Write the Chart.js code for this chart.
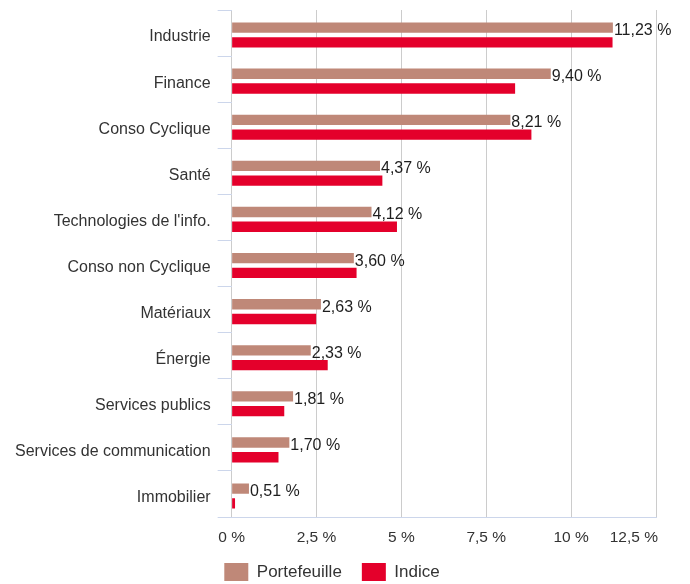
<!DOCTYPE html>
<html>
<head>
<meta charset="utf-8">
<script src="https://cdn.jsdelivr.net/npm/chart.js@4/dist/chart.umd.min.js"></script>
<style>
  html, body { margin: 0; padding: 0; background: #fff; }
  #wrap { width: 690px; height: 584px; }
</style>
</head>
<body>
<div id="wrap"><canvas id="c" width="690" height="584"></canvas></div>
<script>
const categories = ["Industrie", "Finance", "Conso Cyclique", "Santé", "Technologies de l'info.", "Conso non Cyclique", "Matériaux", "Énergie", "Services publics", "Services de communication", "Immobilier"];
const portefeuille = [11.23, 9.40, 8.21, 4.37, 4.12, 3.60, 2.63, 2.33, 1.81, 1.70, 0.51];
const indice = [11.22, 8.35, 8.83, 4.44, 4.87, 3.68, 2.49, 2.83, 1.55, 1.38, 0.10];
const xTicks = [0, 2.5, 5, 7.5, 10, 12.5];
const seriesNames = ["Portefeuille", "Indice"];

const FONT = "'Liberation Sans', Arial, Helvetica, sans-serif";
const BAR_SHIFT = 2;
const fmt = v => v.toLocaleString('fr-FR', {minimumFractionDigits: 0, maximumFractionDigits: 1}) + ' %';
const fmt2 = v => v.toFixed(2).replace('.', ',') + ' %';

const labelsPlugin = {
  id: 'customLabels',
  beforeDatasetsDraw(chart) {
    chart.ctx.save();
    chart.ctx.translate(0, BAR_SHIFT);
  },
  afterDatasetsDraw(chart) {
    const ctx = chart.ctx;
    ctx.restore();
    ctx.save();
    ctx.font = '16px ' + FONT;
    ctx.fillStyle = '#1e1e1e';
    ctx.textAlign = 'left';
    ctx.textBaseline = 'middle';
    const meta = chart.getDatasetMeta(0);
    meta.data.forEach((bar, i) => {
      ctx.fillText(fmt2(portefeuille[i]), bar.x + 1, bar.y + BAR_SHIFT + 3);
    });
    ctx.restore();
  },
  afterDraw(chart) {
    const ctx = chart.ctx;
    const sx = chart.scales.x;
    ctx.save();
    ctx.font = '15.5px ' + FONT;
    ctx.fillStyle = '#333';
    ctx.textBaseline = 'middle';
    const n = xTicks.length;
    xTicks.forEach((v, i) => {
      const px = sx.getPixelForValue(v);
      if (i === n - 1) {
        ctx.textAlign = 'right';
        ctx.fillText(fmt(v), px + 2, sx.top + 21);
      } else {
        ctx.textAlign = 'center';
        ctx.fillText(fmt(v), px, sx.top + 21);
      }
    });
    ctx.restore();
  }
};

new Chart(document.getElementById('c'), {
  type: 'bar',
  data: {
    labels: categories,
    datasets: [
      { label: seriesNames[0], data: portefeuille, backgroundColor: '#bf8878', borderWidth: 0,
        categoryPercentage: 0.64, barPercentage: 0.7 },
      { label: seriesNames[1], data: indice, backgroundColor: '#e4002b', borderWidth: 0,
        categoryPercentage: 0.64, barPercentage: 0.7 }
    ]
  },
  options: {
    indexAxis: 'y',
    responsive: false,
    animation: false,
    layout: { padding: { left: 8, right: 34, top: 10, bottom: -7 } },
    plugins: {
      tooltip: { enabled: false },
      legend: {
        position: 'bottom',
        labels: {
          font: { family: FONT, size: 17 },
          color: '#333',
          boxWidth: 24,
          boxHeight: 18,
          padding: 20
        }
      }
    },
    scales: {
      x: {
        min: 0,
        max: 12.5,
        afterBuildTicks(scale) { scale.ticks = xTicks.map(v => ({ value: v })); },
        afterFit(scale) { scale.height = 26; },
        ticks: { display: false },
        grid: { color: '#cccccc', drawTicks: false, lineWidth: 1 },
        border: { display: true, color: '#ccd6eb' }
      },
      y: {
        afterFit(scale) { scale.paddingTop = 0; scale.paddingBottom = 0; },
        ticks: { font: { family: FONT, size: 16 }, color: '#333', padding: 7, labelOffset: 4 },
        grid: { offset: true, drawOnChartArea: false, color: '#ccd6eb', tickLength: 14 },
        border: { display: false }
      }
    }
  },
  plugins: [labelsPlugin]
});
</script>
</body>
</html>
